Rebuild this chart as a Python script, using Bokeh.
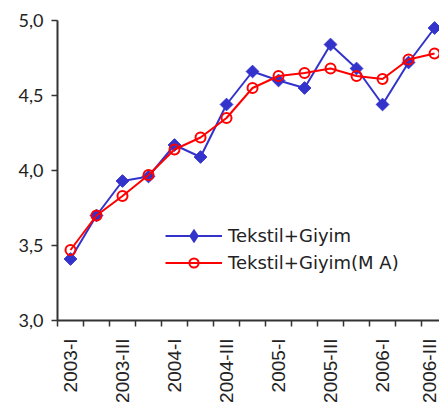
from math import pi

from bokeh.embed import file_html
from bokeh.models import FixedTicker, Legend, LegendItem
from bokeh.plotting import figure
from bokeh.resources import INLINE

# Quarterly periods
periods = [
    "2003-I", "2003-II", "2003-III", "2003-IV",
    "2004-I", "2004-II", "2004-III", "2004-IV",
    "2005-I", "2005-II", "2005-III", "2005-IV",
    "2006-I", "2006-II", "2006-III",
]

# Tekstil+Giyim index and its moving average
tekstil_giyim = [3.41, 3.70, 3.93, 3.96, 4.17, 4.09, 4.44, 4.66,
                 4.60, 4.55, 4.84, 4.68, 4.44, 4.72, 4.95]
tekstil_giyim_ma = [3.47, 3.70, 3.83, 3.97, 4.14, 4.22, 4.35, 4.55,
                    4.63, 4.65, 4.68, 4.63, 4.61, 4.74, 4.78]

y_ticks = [3.0, 3.5, 4.0, 4.5, 5.0]

BLUE = "#3333CC"
RED = "#FF0000"
AXIS = "#333333"
TEXT = "#222222"

x = list(range(len(periods)))

p = figure(
    width=439, height=410,
    x_range=(-0.5, 14.19), y_range=(y_ticks[0], y_ticks[-1]),
    output_backend="svg", toolbar_location=None,
    min_border_left=57, min_border_right=0, min_border_top=20, min_border_bottom=90,
)
p.outline_line_color = None
p.background_fill_color = "white"
p.border_fill_color = "white"

# only a line along the top value
p.xgrid.grid_line_color = None
p.ygrid.ticker = FixedTicker(ticks=[y_ticks[-1]])
p.ygrid.grid_line_color = "#9a9a9a"
p.ygrid.grid_line_width = 2

# y axis
p.yaxis.ticker = FixedTicker(ticks=y_ticks)
p.yaxis.major_label_overrides = {t: f"{t:.1f}".replace(".", ",") for t in y_ticks}
p.yaxis.minor_tick_line_color = None
p.yaxis.major_tick_out = 6
p.yaxis.major_tick_in = 0
p.yaxis.major_label_standoff = 8
p.yaxis.major_label_text_font = "Lato"
p.yaxis.major_label_text_font_size = "18px"
p.yaxis.major_label_text_color = TEXT

# x axis: ticks between periods, label every second period
p.xaxis.ticker = FixedTicker(
    ticks=x[::2],
    minor_ticks=[i - 0.5 for i in x],
)
p.xaxis.major_label_overrides = {i: periods[i] for i in x[::2]}
p.xaxis.major_tick_out = 0
p.xaxis.major_tick_in = 0
p.xaxis.minor_tick_out = 6
p.xaxis.minor_tick_in = 0
p.xaxis.major_label_orientation = pi / 2
p.xaxis.major_label_standoff = 12
p.xaxis.major_label_text_font = "Liberation Sans"
p.xaxis.major_label_text_font_size = "19px"
p.xaxis.major_label_text_color = TEXT

for ax in (p.xaxis, p.yaxis):
    ax.axis_line_color = AXIS
    ax.axis_line_width = 2
    ax.major_tick_line_color = AXIS
    ax.minor_tick_line_color = AXIS
    ax.major_tick_line_width = 1.5
    ax.minor_tick_line_width = 1.5

# series
l1 = p.line(x, tekstil_giyim, line_color=BLUE, line_width=2)
p.scatter(x, tekstil_giyim, marker="square", angle=pi / 4, size=9,
          fill_color=BLUE, line_color=BLUE, line_width=1)
l2 = p.line(x, tekstil_giyim_ma, line_color=RED, line_width=2)
m2 = p.scatter(x, tekstil_giyim_ma, marker="circle", size=10,
               fill_color=None, line_color=RED, line_width=2)

# legend swatch for the blue series: the legend draws markers unrotated,
# so use a diamond marker that never lands inside the frame
legend_diamond = p.scatter([x[0]], [float("nan")], marker="diamond", size=9,
                           fill_color=BLUE, line_color=BLUE, line_width=3,
                           line_join="miter")

legend = Legend(
    items=[
        LegendItem(label="Tekstil+Giyim", renderers=[l1, legend_diamond]),
        LegendItem(label="Tekstil+Giyim(M A)", renderers=[l2, m2]),
    ],
    location=(108, 46),
    padding=0, margin=0, spacing=4,
    glyph_width=57, glyph_height=23, label_height=21,
    label_standoff=6,
    label_text_font="DejaVu Sans",
    label_text_font_size="18px",
    label_text_color=TEXT,
    border_line_color=None,
    background_fill_alpha=0,
)
p.add_layout(legend)

open("out.html", "w").write(file_html(p, INLINE))
